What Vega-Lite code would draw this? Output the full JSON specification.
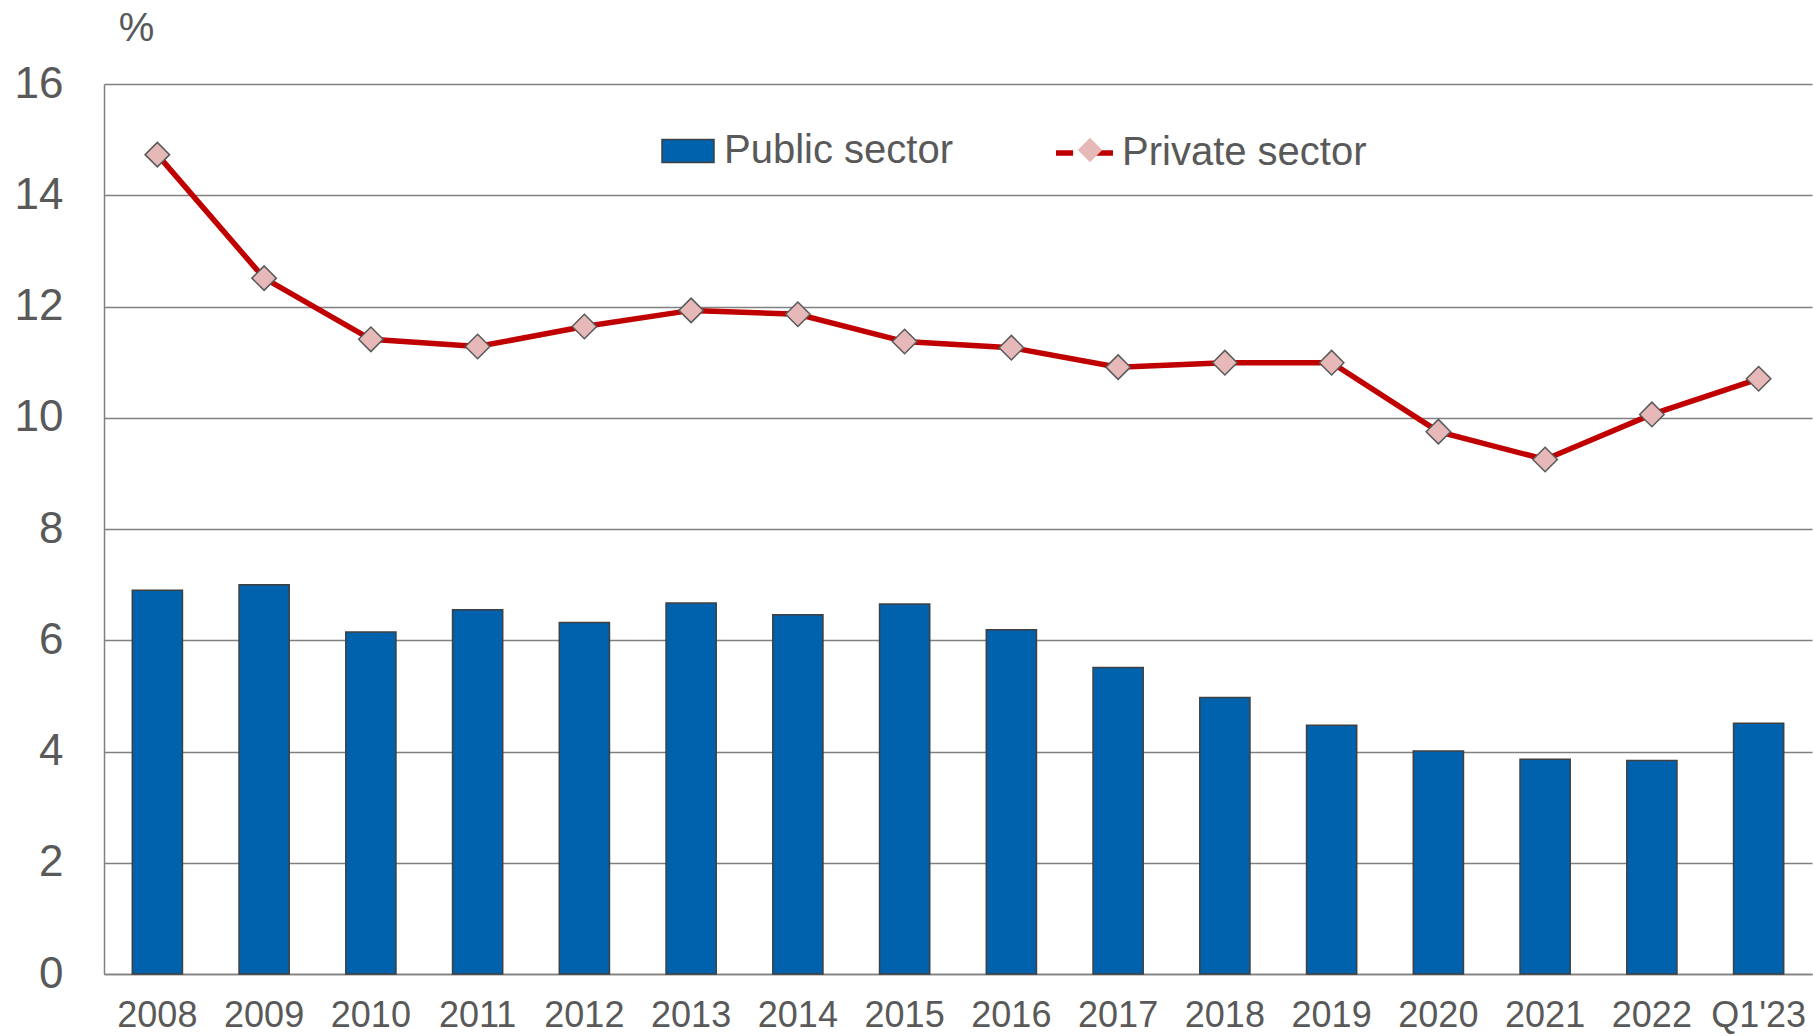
{
  "$schema": "https://vega.github.io/schema/vega-lite/v6.json",
  "width": 1708,
  "height": 890,
  "autosize": {"type": "none"},
  "padding": {"left": 104, "top": 84, "right": 1, "bottom": 62},
  "background": "white",
  "config": {
    "view": {"stroke": null},
    "font": "Liberation Sans",
    "axis": {"labelFont": "Liberation Sans", "titleFont": "Liberation Sans", "labelColor": "#595959", "titleColor": "#595959", "domainColor": "#808080", "domainWidth": 1.5, "gridColor": "#808080", "gridWidth": 1.5, "tickSize": 0},
    "legend": {"labelFont": "Liberation Sans", "labelColor": "#595959", "labelFontSize": 40, "labelLimit": 0, "padding": 0, "title": null, "orient": "none"}
  },
  "data": {
    "values": [
      {"year": "2008", "public": 6.90, "private": 14.73},
      {"year": "2009", "public": 7.00, "private": 12.51},
      {"year": "2010", "public": 6.15, "private": 11.41},
      {"year": "2011", "public": 6.55, "private": 11.28},
      {"year": "2012", "public": 6.32, "private": 11.64},
      {"year": "2013", "public": 6.67, "private": 11.93},
      {"year": "2014", "public": 6.46, "private": 11.86},
      {"year": "2015", "public": 6.65, "private": 11.37},
      {"year": "2016", "public": 6.19, "private": 11.26},
      {"year": "2017", "public": 5.51, "private": 10.91},
      {"year": "2018", "public": 4.97, "private": 10.99},
      {"year": "2019", "public": 4.47, "private": 10.99},
      {"year": "2020", "public": 4.01, "private": 9.75},
      {"year": "2021", "public": 3.86, "private": 9.25},
      {"year": "2022", "public": 3.84, "private": 10.06},
      {"year": "Q1'23", "public": 4.51, "private": 10.70}
    ]
  },
  "encoding": {
    "x": {
      "field": "year", "type": "ordinal", "sort": null,
      "scale": {"paddingInner": 0, "paddingOuter": 0},
      "axis": {"title": null, "labelAngle": 0, "labelFontSize": 36, "labelPadding": 24, "grid": false, "labelBaseline": "top"}
    }
  },
  "layer": [
    {
      "mark": {"type": "bar", "width": {"band": 0.47}, "stroke": "#404040", "strokeWidth": 1.5},
      "encoding": {
        "y": {
          "field": "public", "type": "quantitative",
          "scale": {"domain": [0, 16], "nice": false},
          "axis": {"values": [0, 2, 4, 6, 8, 10, 12, 14, 16], "format": "d", "grid": true, "labelFontSize": 44, "labelPadding": 41, "title": "%", "titleAngle": 0, "titleX": 32, "titleY": -44, "titleAlign": "center", "titleBaseline": "alphabetic", "titleFontSize": 40, "titleFontWeight": "normal"}
        },
        "fill": {
          "datum": "Public sector",
          "scale": {"range": ["#0061AC"]},
          "legend": {"legendX": 557, "legendY": 40, "symbolType": "M-1,-0.44H1V0.44H-1Z", "symbolSize": 2704, "symbolStrokeColor": "#404040", "symbolStrokeWidth": 1.5, "labelOffset": 9}
        }
      }
    },
    {
      "mark": {"type": "line", "strokeWidth": 5.5},
      "encoding": {
        "y": {"field": "private", "type": "quantitative"},
        "stroke": {
          "datum": "Private sector",
          "scale": {"range": ["#C00000"]},
          "legend": {"legendX": 949, "legendY": 37.5, "symbolType": "M-1,0H-0.4M0.4,0H1", "symbolSize": 3249, "symbolStrokeWidth": 5.5, "labelOffset": 6}
        }
      }
    },
    {
      "mark": {"type": "point", "filled": true, "fill": "#E6B9B8", "stroke": "#595959", "strokeWidth": 1.5, "size": 600, "opacity": 1},
      "encoding": {
        "y": {"field": "private", "type": "quantitative"},
        "shape": {
          "datum": "Private sector",
          "scale": {"range": ["diamond"]},
          "legend": {"legendX": 966, "legendY": 46, "symbolSize": 600, "symbolFillColor": "#E6B9B8", "symbolStrokeColor": "#595959", "symbolStrokeWidth": 1.5, "symbolOpacity": 1, "labelOffset": 21.5, "labelOpacity": 0}
        }
      }
    }
  ],
  "resolve": {"legend": {"fill": "independent", "stroke": "independent", "shape": "independent"}}
}
